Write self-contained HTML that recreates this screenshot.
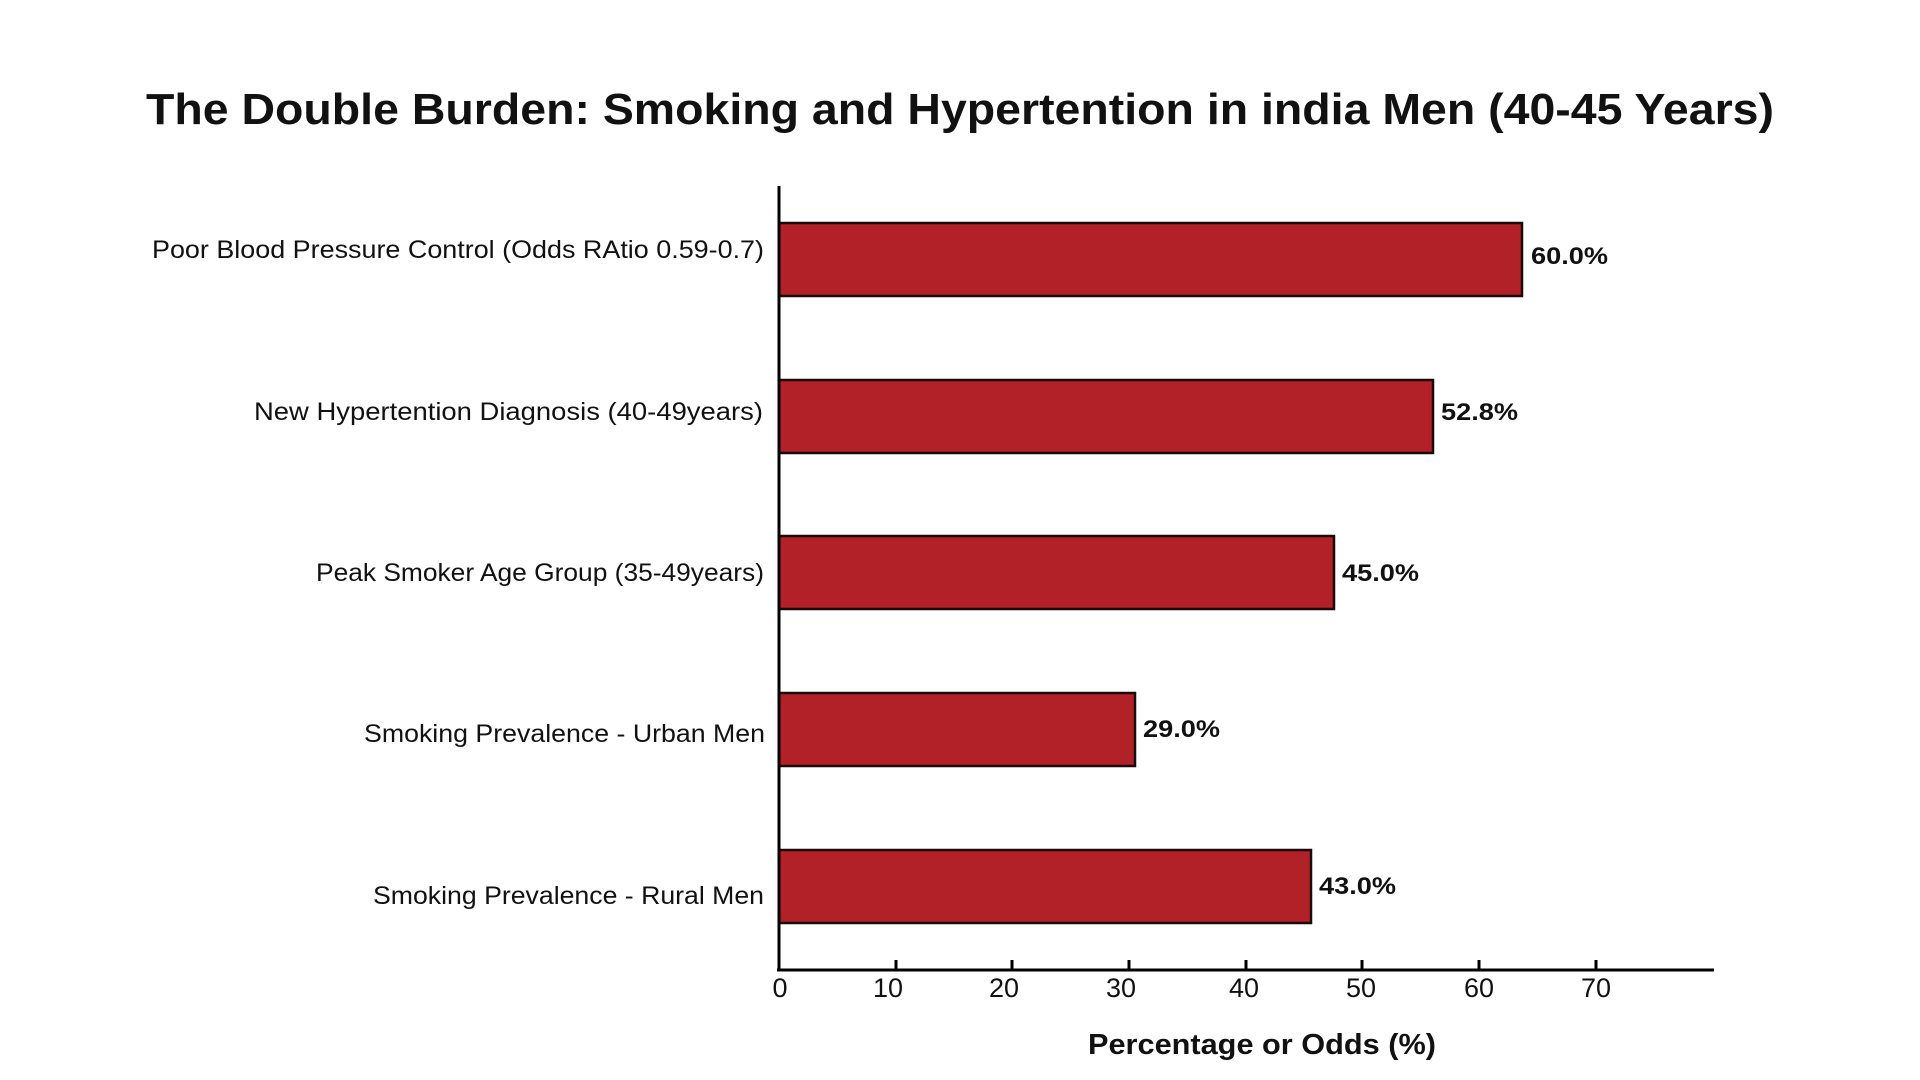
<!DOCTYPE html>
<html><head><meta charset="utf-8"><style>
html,body{margin:0;padding:0;background:#fff;}
svg{display:block;}
text{font-family:"Liberation Sans",sans-serif;fill:#111;}
</style></head><body>
<svg width="1920" height="1080" viewBox="0 0 1920 1080" xmlns="http://www.w3.org/2000/svg">
<rect width="1920" height="1080" fill="#fff"/>
<text x="960" y="124" text-anchor="middle" font-size="44" font-weight="bold" textLength="1628" lengthAdjust="spacingAndGlyphs">The Double Burden: Smoking and Hypertention in india Men (40-45 Years)</text>
<g fill="#b22028" stroke="#1a0a0a" stroke-width="2.5">
<rect x="779" y="223" width="743" height="73"/>
<rect x="779" y="380" width="654" height="73"/>
<rect x="779" y="536" width="555" height="73"/>
<rect x="779" y="693" width="356" height="73"/>
<rect x="779" y="850" width="532" height="73"/>
</g>
<g font-size="25" text-anchor="end">
<text x="764" y="258" textLength="612" lengthAdjust="spacingAndGlyphs">Poor Blood Pressure Control (Odds RAtio 0.59-0.7)</text>
<text x="763" y="420" textLength="509" lengthAdjust="spacingAndGlyphs">New Hypertention Diagnosis (40-49years)</text>
<text x="764" y="581" textLength="448" lengthAdjust="spacingAndGlyphs">Peak Smoker Age Group (35-49years)</text>
<text x="765" y="742" textLength="401" lengthAdjust="spacingAndGlyphs">Smoking Prevalence - Urban Men</text>
<text x="764" y="904" textLength="391" lengthAdjust="spacingAndGlyphs">Smoking Prevalence - Rural Men</text>
</g>
<g font-size="24" font-weight="bold">
<text x="1531" y="264" textLength="77" lengthAdjust="spacingAndGlyphs">60.0%</text>
<text x="1441" y="420" textLength="77" lengthAdjust="spacingAndGlyphs">52.8%</text>
<text x="1342" y="581" textLength="77" lengthAdjust="spacingAndGlyphs">45.0%</text>
<text x="1143" y="737" textLength="77" lengthAdjust="spacingAndGlyphs">29.0%</text>
<text x="1319" y="894" textLength="77" lengthAdjust="spacingAndGlyphs">43.0%</text>
</g>
<g stroke="#000" stroke-width="3">
<line x1="779" y1="186" x2="779" y2="971"/>
<line x1="777" y1="970" x2="1714" y2="970"/>
<line x1="896" y1="960" x2="896" y2="970"/>
<line x1="1012" y1="960" x2="1012" y2="970"/>
<line x1="1129" y1="960" x2="1129" y2="970"/>
<line x1="1246" y1="960" x2="1246" y2="970"/>
<line x1="1362" y1="960" x2="1362" y2="970"/>
<line x1="1479" y1="960" x2="1479" y2="970"/>
<line x1="1596" y1="960" x2="1596" y2="970"/>
</g>
<g font-size="27" text-anchor="middle">
<text x="780" y="997">0</text>
<text x="888" y="997">10</text>
<text x="1004" y="997">20</text>
<text x="1121" y="997">30</text>
<text x="1244" y="997">40</text>
<text x="1361" y="997">50</text>
<text x="1479" y="997">60</text>
<text x="1596" y="997">70</text>
</g>
<text x="1262" y="1054" text-anchor="middle" font-size="29" font-weight="bold" textLength="348" lengthAdjust="spacingAndGlyphs">Percentage or Odds (%)</text>
</svg>
</body></html>
